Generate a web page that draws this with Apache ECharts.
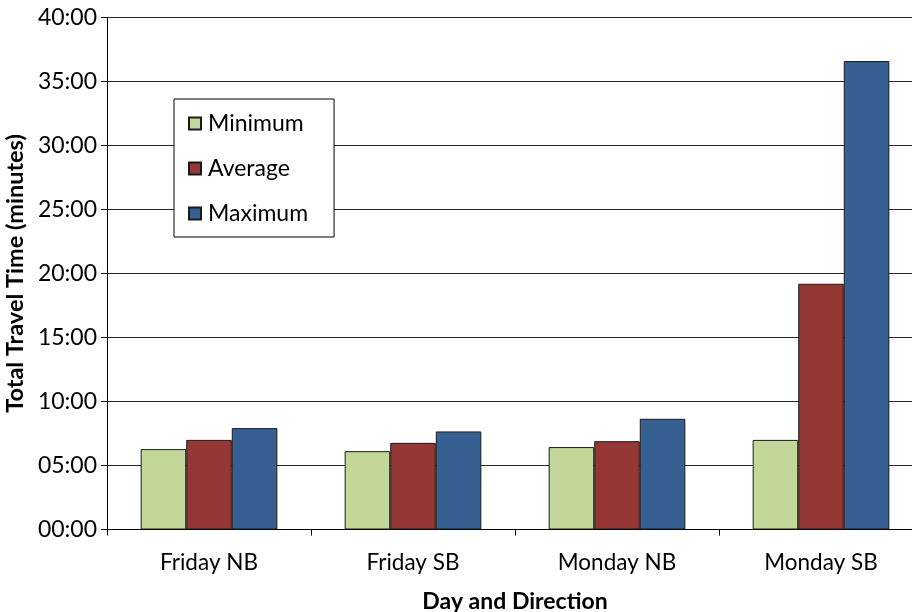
<!DOCTYPE html>
<html>
<head>
<meta charset="utf-8">
<script src="https://cdn.jsdelivr.net/npm/echarts@6/dist/echarts.min.js"></script>
<style>
  html, body { margin: 0; padding: 0; background: #fff; }
  #chart { width: 912px; height: 612px; }
</style>
</head>
<body>
<div id="chart"></div>
<script>
// Travel time per day/direction, in minutes
const categories = ['Friday NB', 'Friday SB', 'Monday NB', 'Monday SB'];
const minimumMinutes = [6.28, 6.12, 6.44, 7.0];
const averageMinutes = [7.0, 6.77, 6.9, 19.2];
const maximumMinutes = [7.92, 7.66, 8.65, 36.6];
const seriesNames = ['Minimum', 'Average', 'Maximum'];

const FONT = 'Lato';
const colors = ['#C4D79B', '#953735', '#376092'];

function pad(n) { return (n < 10 ? '0' : '') + n; }
// minutes -> "MM:SS"
function mmss(v) {
  const total = Math.round(v * 60);
  return pad(Math.floor(total / 60)) + ':' + pad(total % 60);
}

const chart = echarts.init(document.getElementById('chart'), null, { renderer: 'canvas' });

function barSeries(name, data, color) {
  return {
    name: name,
    type: 'bar',
    data: data,
    barGap: '0%',
    barCategoryGap: '33%',
    itemStyle: { color: color, borderColor: '#1a1a1a', borderWidth: 1 },
    emphasis: { disabled: true }
  };
}

chart.setOption({
  animation: false,
  backgroundColor: '#ffffff',
  color: colors,
  textStyle: { fontFamily: FONT },
  // the plot area runs slightly past the right edge of the canvas
  grid: { left: 107, top: 17.5, width: 816, height: 512, containLabel: false, outerBoundsMode: 'none' },
  legend: {
    orient: 'vertical',
    left: 174,
    top: 99,
    data: seriesNames,
    itemWidth: 12,
    itemHeight: 12,
    itemGap: 22,
    padding: [13, 26, 12, 14],
    backgroundColor: '#ffffff',
    borderColor: '#000000',
    borderWidth: 1,
    borderRadius: 0,
    icon: 'rect',
    textStyle: { fontFamily: FONT, fontSize: 23, lineHeight: 22, color: '#000', padding: [0, 0, 0, 2] }
  },
  xAxis: {
    type: 'category',
    data: categories,
    name: 'Day and Direction',
    nameLocation: 'middle',
    nameGap: 61,
    nameTextStyle: { fontFamily: FONT, fontSize: 23, fontWeight: 'bold', color: '#000' },
    axisLine: { lineStyle: { color: '#000', width: 1 } },
    axisTick: { show: true, length: 6, alignWithLabel: false, lineStyle: { color: '#000' } },
    axisLabel: { fontFamily: FONT, fontSize: 22.5, color: '#000', margin: 22 },
    splitLine: { show: false }
  },
  yAxis: {
    type: 'value',
    min: 0,
    max: 40,
    interval: 5,
    name: 'Total Travel Time (minutes)',
    nameLocation: 'middle',
    nameRotate: 90,
    nameGap: 77,
    nameTextStyle: { fontFamily: FONT, fontSize: 23.5, fontWeight: 'bold', color: '#000' },
    axisLine: { show: true, lineStyle: { color: '#000', width: 1 } },
    axisTick: { show: true, length: 6, lineStyle: { color: '#000' } },
    axisLabel: { fontFamily: FONT, fontSize: 23, color: '#000', margin: 10, formatter: mmss },
    splitLine: { show: true, lineStyle: { color: '#262626', width: 1 } }
  },
  series: [
    barSeries(seriesNames[0], minimumMinutes, colors[0]),
    barSeries(seriesNames[1], averageMinutes, colors[1]),
    barSeries(seriesNames[2], maximumMinutes, colors[2])
  ]
});
</script>
</body>
</html>
